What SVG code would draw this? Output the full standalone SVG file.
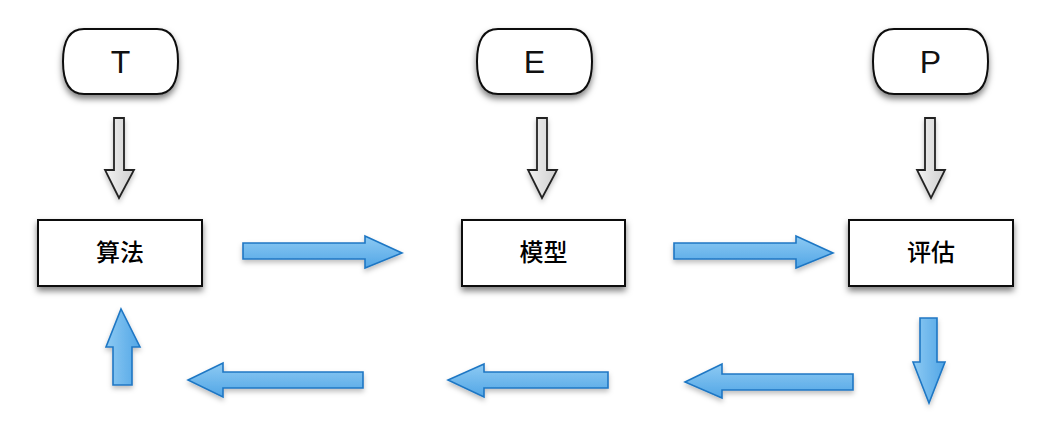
<svg xmlns="http://www.w3.org/2000/svg" width="1050" height="440" viewBox="0 0 1050 440">
<defs>
  <filter id="sh" x="-20%" y="-20%" width="140%" height="160%">
    <feDropShadow dx="0" dy="4" stdDeviation="3" flood-color="#000" flood-opacity="0.5"/>
  </filter>
  <filter id="ash" x="-20%" y="-30%" width="140%" height="170%">
    <feDropShadow dx="0" dy="3" stdDeviation="2.5" flood-color="#000" flood-opacity="0.25"/>
  </filter>
  <linearGradient id="blueH" x1="0" y1="0" x2="0" y2="1">
    <stop offset="0" stop-color="#8dcaf3"/>
    <stop offset="1" stop-color="#52a6e6"/>
  </linearGradient>
  <linearGradient id="blueV" x1="0" y1="0" x2="1" y2="0">
    <stop offset="0" stop-color="#8dcaf3"/>
    <stop offset="1" stop-color="#52a6e6"/>
  </linearGradient>
  <linearGradient id="gray" x1="0" y1="0" x2="1" y2="0">
    <stop offset="0" stop-color="#f2f2f2"/>
    <stop offset="1" stop-color="#cfcfcf"/>
  </linearGradient>
</defs>
<style>
  .pill { fill: #fff; stroke: #111; stroke-width: 2; filter: url(#sh); }
  .box { fill: #fff; stroke: #111; stroke-width: 2; filter: url(#sh); }
  .lt { font-family: "Liberation Sans", Arial, sans-serif; font-size: 32px; fill: #111; text-anchor: middle; }
  .ct { font-family: "Noto Sans CJK SC", sans-serif; font-size: 24px; font-weight: 500; fill: #000; text-anchor: middle; }
  .ga { fill: url(#gray); stroke: #222; stroke-width: 1.8; stroke-linejoin: miter; filter: url(#ash); }
  .bh { fill: url(#blueH); stroke: #1f77c4; stroke-width: 1.6; filter: url(#ash); }
  .bv { fill: url(#blueV); stroke: #1f77c4; stroke-width: 1.6; filter: url(#ash); }
</style>

<g id="node-T">
  <path class="pill" d="M84,29 H157 Q178,29 178,61.5 Q178,94 157,94 H84 Q63,94 63,61.5 Q63,29 84,29 Z"/>
  <text class="lt" x="120.5" y="73">T</text>
</g>
<g id="node-E">
  <path class="pill" d="M498,29 H571 Q592,29 592,61.5 Q592,94 571,94 H498 Q477,94 477,61.5 Q477,29 498,29 Z"/>
  <text class="lt" x="534.5" y="73">E</text>
</g>
<g id="node-P">
  <path class="pill" d="M894,29 H967 Q988,29 988,61.5 Q988,94 967,94 H894 Q873,94 873,61.5 Q873,29 894,29 Z"/>
  <text class="lt" x="930.5" y="73">P</text>
</g>

<g id="node-algo">
  <rect class="box" x="38" y="220" width="164" height="66"/>
  <text class="ct" x="120" y="261">算法</text>
</g>
<g id="node-model">
  <rect class="box" x="462" y="220" width="163" height="66"/>
  <text class="ct" x="543.5" y="261">模型</text>
</g>
<g id="node-eval">
  <rect class="box" x="849" y="220" width="164" height="66"/>
  <text class="ct" x="931" y="261">评估</text>
</g>

<g id="connectors">
  <path class="ga" d="M114,118 H124 V170 H134 L119,198 L105,170 H114 Z"/>
  <path class="ga" d="M537,118 H547 V170 H557 L542,198 L528,170 H537 Z"/>
  <path class="ga" d="M925,118 H935 V170 H945 L931,198 L917,170 H925 Z"/>

  <path class="bh" d="M243,243 H365 V236 L402,253 L365,268 V259 H243 Z"/>
  <path class="bh" d="M674,243 H796 V236 L833,253 L796,268 V259 H674 Z"/>

  <path class="bv" d="M920,318 H937 V362 H945 L929,403 L913,362 H920 Z"/>

  <path class="bh" d="M853,374 H722 V364 L685,382 L722,398 V390 H853 Z"/>
  <path class="bh" d="M608,372 H484 V364 L448,380 L484,397 V388 H608 Z"/>
  <path class="bh" d="M363,372 H223 V363 L188,380 L223,397 V388 H363 Z"/>

  <path class="bv" d="M113,385 V347 H106 L121,309 L140,347 H132 V385 Z"/>
</g>
</svg>
